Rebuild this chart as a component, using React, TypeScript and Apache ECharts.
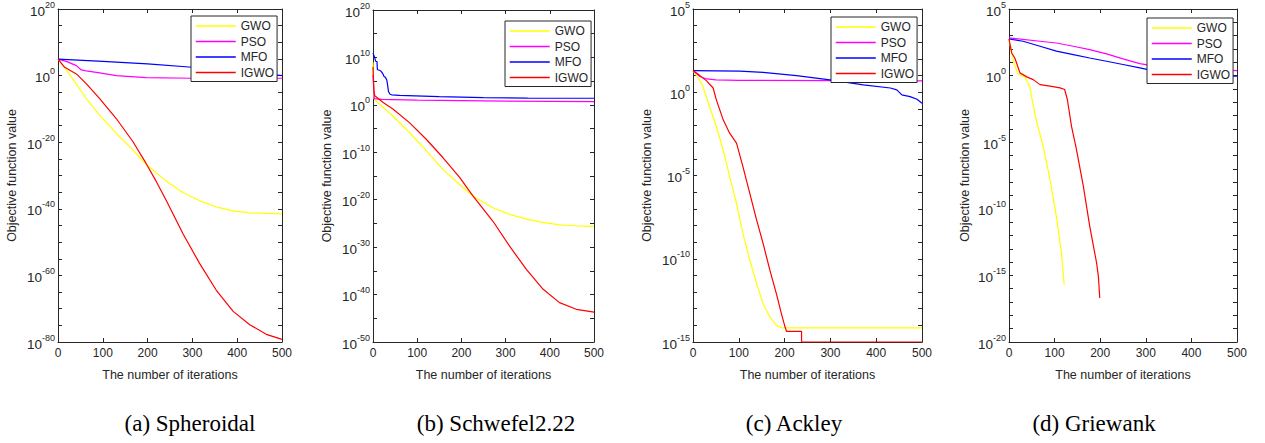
import React, { useEffect, useRef } from "react";
import * as echarts from "echarts";

// ---------- data (iteration, objective value) ----------
const seriesNames = ["GWO", "PSO", "MFO", "IGWO"];
const seriesColors = ["#ffff00", "#ff00ff", "#0000ff", "#ff0000"];
const xTickValues = [0, 100, 200, 300, 400, 500];
const captions = ["(a) Spheroidal", "(b) Schwefel2.22", "(c) Ackley", "(d) Griewank"];

// (a) Spheroidal
const aGwoIter = [0, 15, 33, 63, 93, 130, 167, 197, 242, 279, 316, 353, 391, 428, 465, 500];
const aGwo = [9e4, 2e2, 1e-1, 1.3e-7, 1.3e-12, 5e-18, 5e-23, 2e-27, 2e-32, 8e-36, 2.5e-38, 4e-40, 2.5e-41, 6.3e-42, 4e-42, 3.2e-42];
const aPsoIter = [0, 20, 41, 52, 63, 93, 130, 197, 300, 500];
const aPso = [9e4, 1.6e4, 1e3, 50, 25, 6.3, 1, 0.25, 0.16, 0.16];
const aMfoIter = [0, 100, 200, 300, 400, 500];
const aMfo = [9e4, 2e4, 3.2e3, 3.2e2, 25, 1];
const aIgwoIter = [0, 15, 41, 63, 93, 130, 167, 195, 219, 242, 279, 316, 353, 391, 428, 465, 500];
const aIgwo = [9e4, 3.2e2, 3.2, 4e-3, 1.3e-7, 1.3e-13, 1.6e-20, 1e-26, 2e-32, 2.5e-38, 3.2e-48, 4e-57, 4e-65, 1.6e-71, 1.6e-75, 2e-78, 6.3e-80];
const aYLabels = [1e-80, 1e-60, 1e-40, 1e-20, 1e0, 1e20];

// (b) Schwefel2.22
const bGwoIter = [0, 2, 5, 45, 83, 121, 158, 196, 226, 271, 309, 347, 385, 422, 460, 500];
const bGwo = [1e9, 30, 10, 4.5e-3, 1.3e-6, 2e-10, 2.5e-14, 1.6e-17, 6.3e-20, 2e-22, 7.9e-24, 7.9e-25, 1.6e-25, 5e-26, 3.2e-26, 2.5e-26];
const bPsoIter = [0, 3, 20, 100, 300, 500];
const bPso = [2e6, 20, 15, 10, 6.3, 5];
const bMfoIter = [0, 3, 6, 9, 10, 15, 19, 22, 25, 28, 31, 33, 35, 38, 42, 60, 150, 250, 350, 500];
const bMfo = [8e10, 1.6e10, 1.6e9, 1.3e9, 2.5e7, 2e7, 1e7, 4e6, 1e6, 6.3e5, 2e5, 1.6e4, 6.3e2, 2e2, 1.3e2, 1e2, 56, 32, 26, 25];
const bIgwoIter = [0, 2, 4, 23, 45, 83, 121, 158, 196, 226, 271, 309, 347, 385, 422, 460, 500];
const bIgwo = [1e8, 1e3, 80, 3.2, 0.13, 1.6e-4, 5e-8, 7.9e-12, 5e-16, 6.3e-20, 3.2e-25, 1.6e-30, 2e-35, 1.3e-39, 2e-42, 7.9e-44, 2e-44];
const bYLabels = [1e-50, 1e-40, 1e-30, 1e-20, 1e-10, 1e0, 1e10, 1e20];

// (c) Ackley
const cGwoIter = [0, 10, 20, 36, 51, 66, 80, 95, 109, 124, 139, 153, 168, 182, 193, 500];
const cGwo = [20, 8, 3, 0.14, 8.7e-3, 3.4e-4, 8.5e-6, 2.1e-7, 3.3e-9, 8.1e-11, 3.2e-12, 2e-13, 3.2e-14, 1e-14, 7.1e-15, 7.1e-15];
const cPsoIter = [0, 15, 30, 50, 100, 500];
const cPso = [20, 8.9, 6.3, 5.6, 5.2, 4.8];
const cMfoIter = [0, 102, 153, 226, 299, 372, 431, 445, 456, 474, 489, 500];
const cMfo = [20, 18.6, 15.8, 10, 5.6, 2.8, 1.8, 1.4, 0.69, 0.55, 0.38, 0.22];
const cIgwoIter = [0, 15, 29, 44, 51, 66, 80, 95, 109, 124, 139, 153, 168, 182, 193, 201, 204, 237, 237, 500];
const cIgwo = [20, 10, 5, 1.8, 0.35, 0.022, 3.5e-3, 8.7e-4, 3.4e-5, 8.5e-7, 2.1e-8, 8.3e-10, 2e-11, 8.1e-13, 5.1e-14, 7.9e-15, 4.4e-15, 4.4e-15, 1e-15, 1e-15];
const cYLabels = [1e-15, 1e-10, 1e-5, 1e0, 1e5];

// (d) Griewank
const dGwoIter = [0, 5, 12, 20, 35, 45, 60, 75, 90, 105, 115, 121];
const dGwo = [560, 63, 6.3, 1.3, 0.8, 0.16, 4e-4, 5e-6, 1.6e-8, 1.6e-11, 5e-14, 2e-16];
const dPsoIter = [0, 68, 104, 141, 177, 214, 250, 287, 323, 360, 433, 500];
const dPso = [680, 380, 280, 160, 89, 43, 18, 7.9, 5, 3.8, 2.8, 2.4];
const dMfoIter = [0, 31, 68, 104, 141, 177, 214, 250, 287, 323, 360, 433, 500];
const dMfo = [560, 380, 160, 68, 38, 21, 12, 6.8, 3.8, 2.1, 1.2, 1.0, 0.9];
const dIgwoIter = [0, 6, 13, 24, 39, 53, 68, 90, 112, 122, 128, 137, 148, 163, 177, 192, 196, 199];
const dIgwo = [560, 50, 20, 1.6, 0.8, 0.5, 0.21, 0.16, 0.12, 0.09, 0.016, 1.6e-4, 2.8e-6, 5e-9, 5e-12, 8.9e-15, 8.9e-16, 2e-17];
const dYLabels = [1e-20, 1e-15, 1e-10, 1e-5, 1e0, 1e5];

// ---------- layout ----------
const SANS = 'Arial, "Liberation Sans", Helvetica, sans-serif';
const SERIF = '"Times New Roman", "Liberation Serif", serif';
const AX = "#262626";

function decadeTicks(minExp: number, maxExp: number, step: number) {
  const out: number[] = [];
  for (let e = minExp; e <= maxExp; e += step) out.push(Math.pow(10, e));
  return out;
}

const panels = [
  {
    grid: { left: 58, top: 7, width: 224, height: 335 },
    yMin: 1e-80, yMax: 1e20, labels: aYLabels, ticks: decadeTicks(-80, 20, 5),
    data: [[aGwoIter, aGwo], [aPsoIter, aPso], [aMfoIter, aMfo], [aIgwoIter, aIgwo]],
    legend: { left: 191, top: 16 }, nameGap: 40, captionX: 190,
  },
  {
    grid: { left: 373, top: 10, width: 221, height: 332 },
    yMin: 1e-50, yMax: 1e20, labels: bYLabels, ticks: decadeTicks(-50, 20, 5),
    data: [[bGwoIter, bGwo], [bPsoIter, bPso], [bMfoIter, bMfo], [bIgwoIter, bIgwo]],
    legend: { left: 505, top: 21 }, nameGap: 40, captionX: 496,
  },
  {
    grid: { left: 693, top: 8, width: 229, height: 334 },
    yMin: 1e-15, yMax: 1e5, labels: cYLabels, ticks: decadeTicks(-15, 5, 1),
    data: [[cGwoIter, cGwo], [cPsoIter, cPso], [cMfoIter, cMfo], [cIgwoIter, cIgwo]],
    legend: { left: 831, top: 17 }, nameGap: 40, captionX: 794,
  },
  {
    grid: { left: 1009, top: 9, width: 228, height: 333 },
    yMin: 1e-20, yMax: 1e5, labels: dYLabels, ticks: decadeTicks(-20, 5, 1),
    data: [[dGwoIter, dGwo], [dPsoIter, dPso], [dMfoIter, dMfo], [dIgwoIter, dIgwo]],
    legend: { left: 1147, top: 18 }, nameGap: 38, captionX: 1094,
  },
];

function buildOption() {
  const grid: any[] = [];
  const xAxis: any[] = [];
  const yAxis: any[] = [];
  const series: any[] = [];
  const legend: any[] = [];
  const graphic: any[] = [];

  panels.forEach((p, i) => {
    grid.push({ ...p.grid, show: false });
    const lineStyle = { color: AX, width: 1 };
    xAxis.push({
      type: "value", gridIndex: i, position: "bottom", min: 0, max: 500, interval: 100,
      name: "The number of iterations", nameLocation: "middle", nameGap: 26,
      nameTextStyle: { fontSize: 12.5, color: AX, fontFamily: SANS },
      axisLine: { show: true, onZero: false, lineStyle },
      axisTick: { show: true, inside: true, length: 4, lineStyle },
      axisLabel: { show: true, fontSize: 12, color: AX, fontFamily: SANS, margin: 5,
        customValues: xTickValues },
      splitLine: { show: false },
    });
    xAxis.push({
      type: "value", gridIndex: i, position: "top", min: 0, max: 500, interval: 100,
      axisLine: { show: true, onZero: false, lineStyle },
      axisTick: { show: true, inside: true, length: 4, lineStyle },
      axisLabel: { show: false },
      splitLine: { show: false },
    });
    yAxis.push({
      type: "log", logBase: 10, gridIndex: i, position: "left", min: p.yMin, max: p.yMax,
      name: "Objective function value", nameLocation: "middle", nameGap: p.nameGap, nameRotate: 90,
      nameTextStyle: { fontSize: 12.5, color: AX, fontFamily: SANS },
      axisLine: { show: true, onZero: false, lineStyle },
      axisTick: { show: true, inside: true, length: 4, lineStyle, customValues: p.ticks },
      axisLabel: {
        show: true, margin: 3, customValues: p.labels,
        formatter: (v: number) => `{b|10}{s|${Math.round(Math.log10(v))}}`,
        rich: {
          b: { fontSize: 13.5, color: AX, fontFamily: SANS, lineHeight: 18, verticalAlign: "bottom" },
          s: { fontSize: 9, color: AX, fontFamily: SANS, lineHeight: 18, verticalAlign: "top" },
        },
      },
      splitLine: { show: false },
      minorTick: { show: false },
    });
    yAxis.push({
      type: "log", logBase: 10, gridIndex: i, position: "right", min: p.yMin, max: p.yMax,
      axisLine: { show: true, onZero: false, lineStyle },
      axisTick: { show: true, inside: true, length: 4, lineStyle, customValues: p.ticks },
      axisLabel: { show: false },
      splitLine: { show: false },
    });
    p.data.forEach((d, k) => {
      const [iters, vals] = d as [number[], number[]];
      series.push({
        type: "line", name: seriesNames[k], xAxisIndex: 2 * i, yAxisIndex: 2 * i,
        data: iters.map((x, j) => [x, vals[j]]),
        symbol: "none", showSymbol: false, smooth: false,
        lineStyle: { color: seriesColors[k], width: 1.2, opacity: 1 },
        itemStyle: { color: seriesColors[k] },
        emphasis: { disabled: true },
        z: 10 + k, silent: true,
      });
    });
    legend.push({
      left: p.legend.left, top: p.legend.top, orient: "vertical",
      data: seriesNames, selectedMode: false,
      itemWidth: 40, itemHeight: 12, itemGap: 3.5,
      padding: [4, 3, 3, 4],
      itemStyle: { opacity: 0 },
      lineStyle: { width: 1.5 },
      backgroundColor: "#ffffff", borderColor: AX, borderWidth: 1,
      textStyle: { fontSize: 12, color: AX, fontFamily: SANS },
      z: 20,
    });
    graphic.push({
      type: "text", x: p.captionX, y: 423,
      style: { text: captions[i], fontSize: 23, fontFamily: SERIF, fill: "#000",
        align: "center", verticalAlign: "middle" },
    });
  });

  return { animation: false, backgroundColor: "#ffffff", grid, xAxis, yAxis, series, legend, graphic };
}

export default function App() {
  const ref = useRef<HTMLDivElement>(null);
  useEffect(() => {
    const chart = echarts.init(ref.current as HTMLDivElement, null, { renderer: "svg" });
    chart.setOption(buildOption() as any);
    return () => chart.dispose();
  }, []);
  return (
    <div
      ref={ref}
      style={{ position: "absolute", left: 0, top: 0, width: 1265, height: 443, background: "#fff" }}
    />
  );
}
